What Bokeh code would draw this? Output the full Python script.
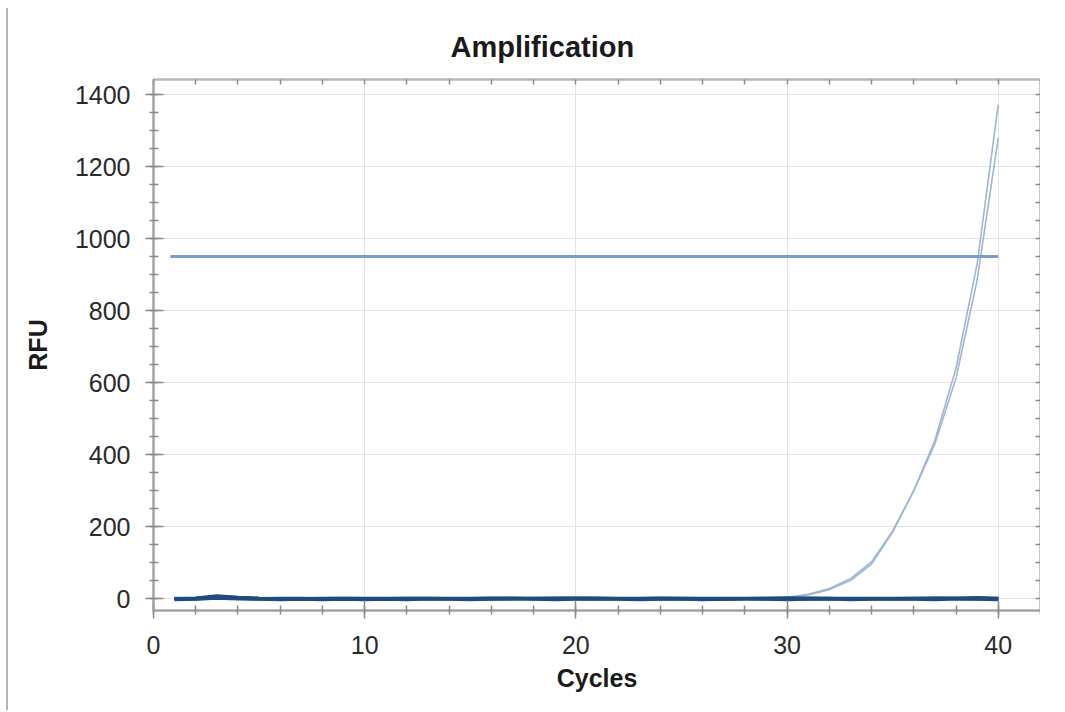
from bokeh.plotting import figure
from bokeh.models import Range1d, LinearAxis, SingleIntervalTicker, FixedTicker
from bokeh.embed import file_html
from bokeh.resources import INLINE

# ---- data ----
cycles = list(range(1, 41))
amp_a = [2, 1, 8, 4, 2, 1, 0, 1, 2, 1,
         0, 1, 2, 1, 0, 1, 2, 1, 0, 1,
         2, 1, 0, -1, 0, 1, 1, 2, 3, 4,
         12, 28, 55, 102, 188, 300, 440, 640, 930, 1372]
amp_b = [1, 0, 6, 3, 1, 0, -1, 0, 1, 2,
         1, 0, 1, 0, 1, 2, 1, 0, 1, 0,
         1, 0, 1, 0, -1, 0, 1, 0, 2, 3,
         10, 25, 50, 96, 185, 300, 430, 612, 885, 1280]
base_1 = [0, 1, 4, 2, 0, -1, 0, 1, 0, -1, 0, 1, 0, -1, 0, 1, 2, 1, 0, -1,
          0, 1, 0, 0, -1, -2, -1, 0, 1, 2, 1, 0, -1, 0, 1, 0, -1, 0, 1, 0]
base_2 = [-1, 0, 6, 3, 1, 0, -1, 0, 1, 0, -1, 0, 1, 0, -1, 0, 1, 0, 2, 1,
          0, -1, 0, 1, 0, -1, 0, 1, 0, 1, 2, 1, 0, -1, 0, 1, 0, 2, 1, 0]
base_3 = [1, -1, 2, 1, -1, 0, 1, -1, 0, 1, 0, -1, 0, 1, 0, 2, 0, -1, 0, 1,
          2, 0, -1, 0, 1, 0, -1, 0, 1, 0, -1, 0, 1, 0, -1, 0, 1, 0, -1, 1]
base_4 = [0, 2, 8, 4, 1, -1, -2, 0, 1, 0, 1, 0, -1, 0, 1, 0, -1, 1, 0, 0,
          -1, 0, 1, 2, 1, 0, -1, 0, 0, 1, 0, -1, 0, 1, 0, 1, 2, 0, 3, 1]
base_5 = [-2, 0, 3, 1, 0, 1, 0, -1, -1, 0, 0, 1, 1, 0, -1, -1, 0, 0, 1, 2,
          1, 0, 0, -1, 0, 1, 1, 0, -1, 0, 0, 1, -1, 0, 0, -1, 1, 1, 0, -1]
base_6 = [-3, -2, 1, -1, -2, -3, -2, -3, -2, -3, -2, -3, -1, -2, -3, -2, -1, -2, -3, -2,
          -1, -2, -3, -2, -1, -3, -2, -1, -2, -3, -2, -1, -3, -2, -1, -2, -3, -1, -2, -3]
baselines = [base_1, base_2, base_3, base_4, base_5, base_6]
threshold_x = [0.8, 40]
threshold_y = [950, 950]
x_minor = list(range(0, 43, 2))
y_minor = list(range(0, 1441, 50))

FONT = "Liberation Sans"

p = figure(frame_width=887, frame_height=531,
           x_range=Range1d(0, 42), y_range=Range1d(-33, 1442),
           output_backend="svg", toolbar_location=None,
           min_border_left=145, min_border_top=71,
           min_border_right=0, min_border_bottom=100,
           title="Amplification",
           styles={"margin-left": "6px", "margin-top": "8px",
                   "border-left": "2px solid #b4b4b4"})

p.title.text_font = FONT
p.title.text_font_size = "29px"
p.title.text_font_style = "bold"
p.title.text_color = "#1a1a1a"
p.title.align = "left"
p.title.offset = 297
p.title.standoff = 34

p.outline_line_color = "#b8b8b8"
p.outline_line_width = 2

xt = SingleIntervalTicker(interval=10, num_minor_ticks=5)
yt = SingleIntervalTicker(interval=200, num_minor_ticks=4)
p.xaxis.ticker = xt
p.yaxis.ticker = yt
p.xgrid.ticker = xt
p.ygrid.ticker = yt
p.xgrid.grid_line_color = "#e4e4e4"
p.ygrid.grid_line_color = "#e4e4e4"

for ax in (p.xaxis[0], p.yaxis[0]):
    ax.axis_line_color = "#a0a0a0"
    ax.axis_line_width = 2
    ax.major_tick_line_color = "#8a8a8a"
    ax.minor_tick_line_color = "#8a8a8a"
    ax.major_tick_line_width = 1.5
    ax.minor_tick_line_width = 1.5
    ax.major_tick_in = 10
    ax.major_tick_out = 8
    ax.minor_tick_in = 5
    ax.minor_tick_out = 4
    ax.major_label_text_font = FONT
    ax.major_label_text_font_size = "25px"
    ax.major_label_text_color = "#2a2a2a"
    ax.axis_label_text_font = FONT
    ax.axis_label_text_font_size = "25px"
    ax.axis_label_text_font_style = "bold"
    ax.axis_label_text_color = "#1a1a1a"

p.xaxis.axis_label = "Cycles"
p.yaxis.axis_label = "RFU"
p.yaxis.major_label_standoff = 15
p.yaxis.axis_label_standoff = 20
p.xaxis.major_label_standoff = 17
p.xaxis.axis_label_standoff = 7

top = LinearAxis(ticker=FixedTicker(ticks=[], minor_ticks=x_minor))
right = LinearAxis(ticker=FixedTicker(ticks=[], minor_ticks=y_minor))
for ax in (top, right):
    ax.axis_line_color = "#b8b8b8"
    ax.axis_line_width = 2
    ax.minor_tick_line_color = "#8a8a8a"
    ax.minor_tick_line_width = 1.5
    ax.minor_tick_in = 5
    ax.minor_tick_out = 0
    ax.major_tick_out = 0
    ax.major_label_standoff = 0
p.add_layout(top, "above")
p.add_layout(right, "right")

p.line(cycles, amp_a, line_color="#9fb6d4", line_width=1.6)
p.line(cycles, amp_b, line_color="#9fb6d4", line_width=1.6)
for b in baselines:
    p.line(cycles, b, line_color="#1f4b80", line_width=3)
p.line(threshold_x, threshold_y, line_color="#7c9dc8", line_width=3)

open("out.html", "w").write(file_html(p, INLINE))
